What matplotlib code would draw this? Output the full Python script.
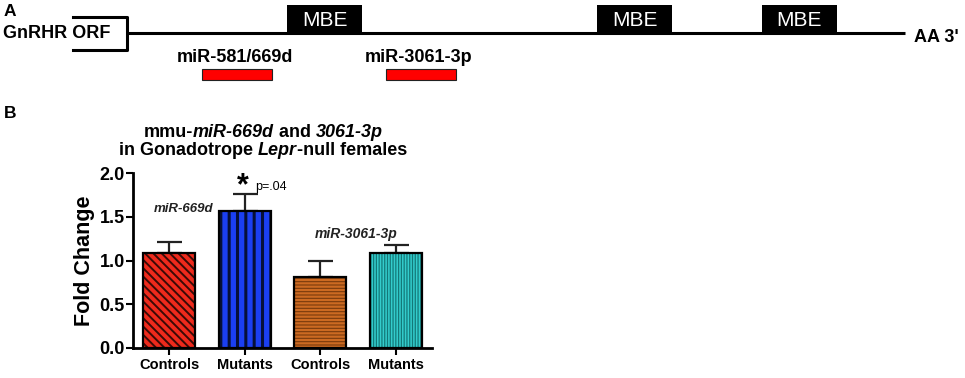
import numpy as np
import matplotlib.pyplot as plt
from matplotlib.patches import Rectangle

plt.rcParams['font.family'] = ['Liberation Sans', 'DejaVu Sans']

# panel B data
groups = ["Controls", "Mutants", "Controls", "Mutants"]
fold_change = [1.09, 1.57, 0.81, 1.09]
sem = [0.12, 0.19, 0.19, 0.09]
bar_colors = ["#ee2a1c", "#1b3ff2", "#cc6a22", "#33cccc"]
hatch_colors = ["#3a0a06", "#06103a", "#7a3a0c", "#137878"]
hatches = ["\\\\\\\\", "||", "-----", "||||||"]
hatch_lw = [1.4, 2.2, 0.8, 0.9]
yticks = [0.0, 0.5, 1.0, 1.5, 2.0]

# title pieces: (text, italic)
title_1 = [("mmu-", False), ("miR-669d", True), (" and ", False), ("3061-3p", True)]
title_2 = [("in Gonadotrope ", False), ("Lepr", True), ("-null females", False)]

# panel A schematic (pixel layout)
mbe_x = [287, 597, 762]
mir_labels = ["miR-581/669d", "miR-3061-3p"]
mir_x = [202, 386]

W, H = 965, 378
fig = plt.figure(figsize=(W / 100, H / 100), dpi=100)

# ---- panel A, drawn in pixel space ----
axA = fig.add_axes([0, 0, 1, 1])
axA.set_xlim(0, W)
axA.set_ylim(H, 0)
axA.axis('off')

axA.text(4, 12, "A", fontsize=12.5, fontweight='bold', va='center')
axA.plot([127, 905], [33, 33], color='black', lw=2.2, solid_capstyle='butt')
axA.plot([73, 127, 127, 73], [17, 17, 50, 50], color='black', lw=2.2)
axA.text(3, 34, "GnRHR ORF", fontsize=13, fontweight='bold', va='center')
for x in mbe_x:
    axA.add_patch(Rectangle((x, 5), 75, 28, facecolor='black', edgecolor='none'))
    axA.text(x + 37.5, 21, "MBE", color='white', fontsize=15, ha='center', va='center')
axA.text(914, 37, "AA 3'", fontsize=13, fontweight='bold', va='center')
for lab, x in zip(mir_labels, mir_x):
    axA.add_patch(Rectangle((x, 69), 70, 11, facecolor='#ff0000', edgecolor='#222222', lw=0.8))
    axA.text(x + 33, 57, lab, fontsize=13, fontweight='bold', ha='center', va='center')

axA.text(4, 113, "B", fontsize=12.5, fontweight='bold', va='center')


def centered_line(pieces, xc, y, size):
    # lay text pieces side by side, then centre the whole line on xc
    texts = [axA.text(0, y, s, fontsize=size, fontweight='bold',
                      style='italic' if it else 'normal', va='baseline')
             for s, it in pieces]
    fig.canvas.draw()
    r = fig.canvas.get_renderer()
    widths = [t.get_window_extent(r).width for t in texts]
    x0 = xc - sum(widths) / 2
    for t, w in zip(texts, widths):
        t.set_x(x0)
        x0 += w


centered_line(title_1, 263, 137, 13)
centered_line(title_2, 263, 155, 13)

# ---- panel B bar chart ----
left, right, bottom, top = 133, 432, 348, 173
axB = fig.add_axes([left / W, (H - bottom) / H, (right - left) / W, (bottom - top) / H])
axB.patch.set_alpha(0)
x = np.arange(len(groups))
for i in range(len(groups)):
    b = axB.bar(x[i], fold_change[i], width=0.69, color=bar_colors[i],
                edgecolor=hatch_colors[i], linewidth=0, hatch=hatches[i], zorder=2)
    if hasattr(b[0], 'set_hatch_linewidth'):
        b[0].set_hatch_linewidth(hatch_lw[i])
    axB.bar(x[i], fold_change[i], width=0.69, fill=False,
            edgecolor='black', linewidth=1.6, zorder=3)
axB.errorbar(x, fold_change, yerr=[np.zeros(len(sem)), sem], fmt='none',
             ecolor='#222222', elinewidth=1.6, capsize=9, capthick=1.6, zorder=1)

axB.set_ylim(0, 2.0)
axB.set_xlim(-0.48, 3.48)
axB.set_yticks(yticks)
axB.set_yticklabels([f"{t:.1f}" for t in yticks], fontsize=13, fontweight='bold')
axB.set_xticks(x)
axB.set_xticklabels(groups, fontsize=10.5, fontweight='bold')
axB.tick_params(axis='y', length=5, width=1.5, pad=1)
axB.tick_params(axis='x', length=5, width=1.5, pad=2.5)
axB.spines['top'].set_visible(False)
axB.spines['right'].set_visible(False)
axB.spines['left'].set_linewidth(2)
axB.spines['bottom'].set_linewidth(2)
axB.set_ylabel("Fold Change", fontsize=15.5, fontweight='bold', labelpad=3)

axB.text(0.58, 1.59, "miR-669d", fontsize=9.5, fontweight='bold', style='italic',
         ha='right', va='center', color='#222222')
axB.text(2.48, 1.30, "miR-3061-3p", fontsize=10, fontweight='bold', style='italic',
         ha='center', va='center', color='#222222')
axB.text(0.97, 1.85, "*", fontsize=22, fontweight='bold', ha='center', va='center')
axB.text(1.14, 1.84, "p=.04", fontsize=9, ha='left', va='center')

fig.savefig("out.png", dpi=100)
